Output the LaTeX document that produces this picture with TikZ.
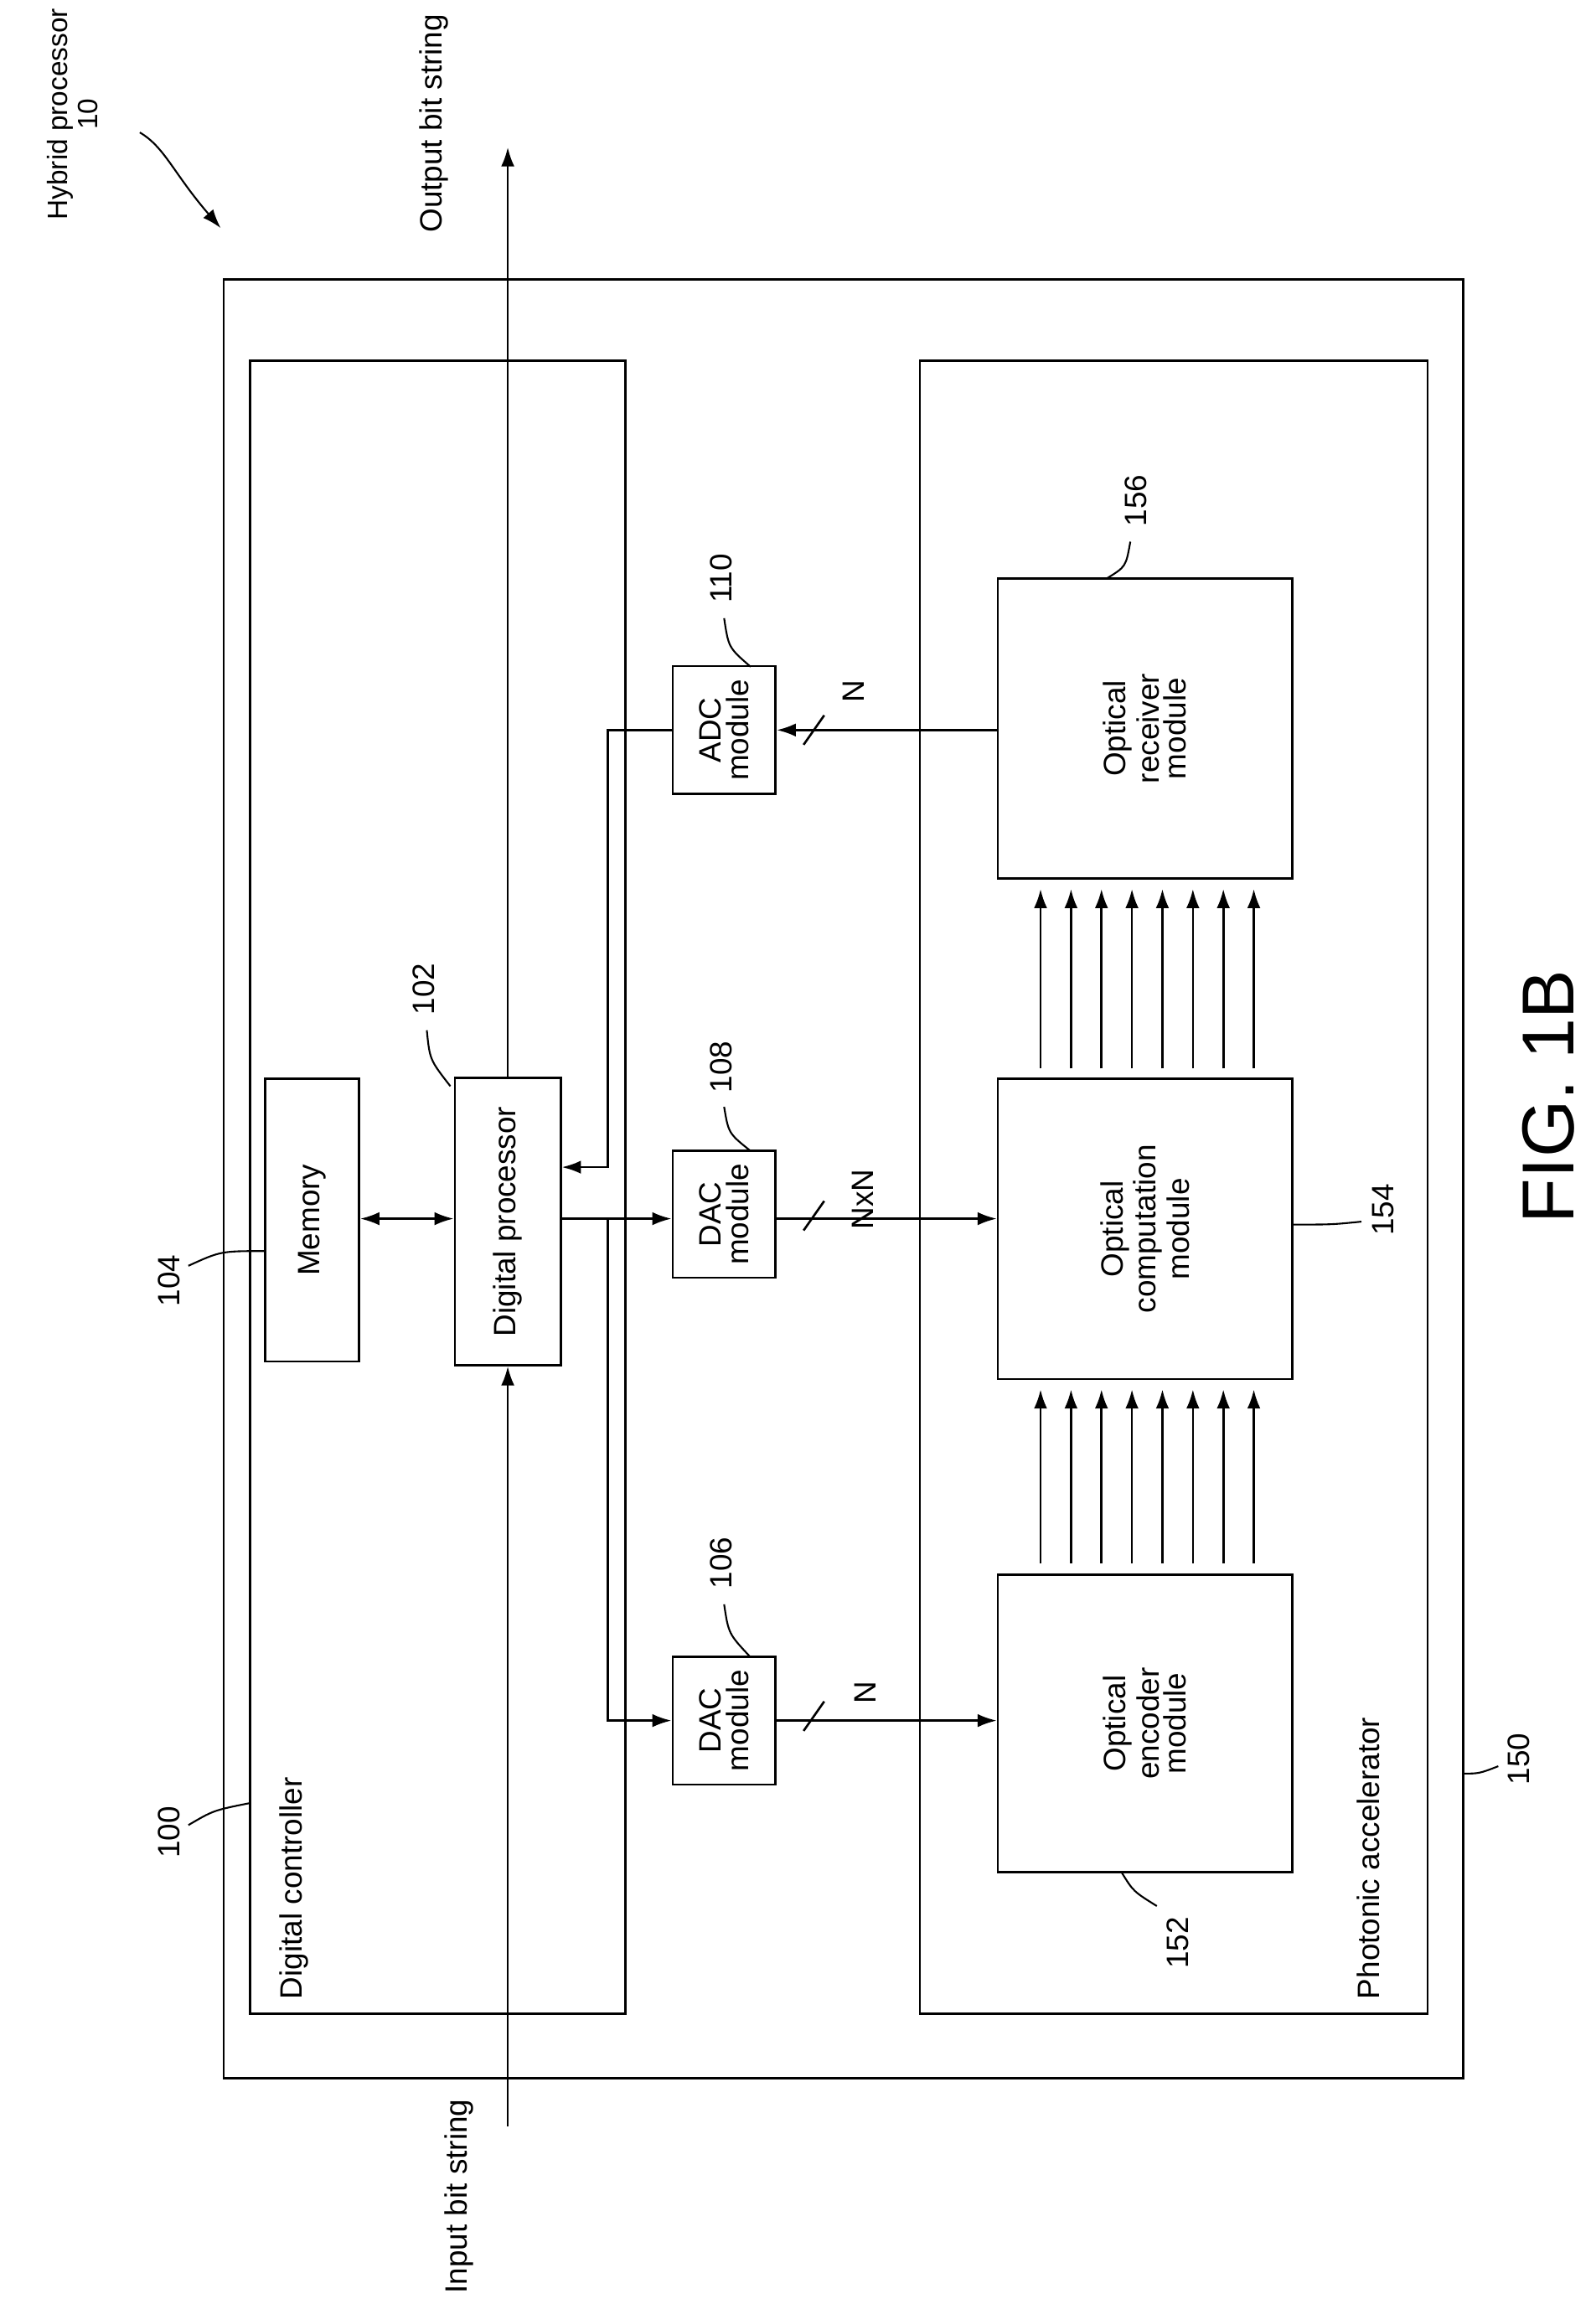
\documentclass[tikz,border=0pt]{standalone}
\usepackage{fontspec}
\setmainfont{Liberation Sans}
\usetikzlibrary{arrows.meta,calc}
\begin{document}
\begin{tikzpicture}[x=1pt,y=1pt,line width=1.5pt,
  >={Latex[length=13pt,width=9pt]}]
	% `blk' is used for the modules, `rtxt' for rotated texts.
	\tikzset{blk/.style={draw,inner sep=0pt,font=\fontsize{21}{24}\selectfont,align=center}}
	\tikzset{rtxt/.style={rotate=90,font=\fontsize{21}{24}\selectfont,inner sep=1pt}}
	\tikzset{lead/.style={line width=1.2pt}}
	\useasboundingbox (0,0) rectangle (1084,-1562);
	%
	% Outer frames.
	\node[draw,minimum width=842,minimum height=1222,inner sep=0pt] (hyb) at (573,-801) {};
	\node[draw,minimum width=255,minimum height=1123,inner sep=0pt] (ctrl) at (297.5,-806.5) {};
	\node[draw,minimum width=345,minimum height=1123,inner sep=0pt] (acc) at (797.5,-806.5) {};
	%
	% Modules.
	\node[blk,minimum width=64,minimum height=192] (mem) at (212,-829) {\rotatebox{90}{Memory}};
	\node[blk,minimum width=72,minimum height=195] (proc) at (345,-830) {\rotatebox{90}{Digital processor}};
	\node[blk,minimum width=70,minimum height=87] (dacA) at (492,-1169) {\rotatebox{90}{\shortstack{DAC\\module}}};
	\node[blk,minimum width=70,minimum height=86] (dacB) at (492,-825) {\rotatebox{90}{\shortstack{DAC\\module}}};
	\node[blk,minimum width=70,minimum height=87] (adc) at (492,-496) {\rotatebox{90}{\shortstack{ADC\\module}}};
	\node[blk,minimum width=200,minimum height=202] (enc) at (778,-1171) {\rotatebox{90}{\shortstack{Optical\\encoder\\module}}};
	\node[blk,minimum width=200,minimum height=204] (comp) at (778,-835) {\rotatebox{90}{\shortstack{Optical\\computation\\module}}};
	\node[blk,minimum width=200,minimum height=204] (rec) at (778,-495) {\rotatebox{90}{\shortstack{Optical\\receiver\\module}}};
	%
	% Free ends and corners.
	\coordinate (in) at (345,-1445);
	\coordinate (out) at (345,-100);
	\coordinate (jdac) at (413,-828);
	\coordinate (jadc) at (413,-793);
	%
	% Connectors.
	\draw[->] (in) -- (proc.south);
	\draw[->] (proc.north) -- (out);
	\draw[<->] (mem.east |- jdac) -- (proc.west |- jdac);
	\draw[->] (proc.east |- jdac) -- (dacB.west |- jdac);
	\draw[->] (jdac) |- (dacA.west);
	\draw[->] (adc.west) -| (jadc) -- (proc.east |- jadc);
	\draw[->] (dacA.east) -- (enc.west |- dacA.east);
	\draw[->] (dacB.east |- jdac) -- (comp.west |- jdac);
	\draw[->] (rec.west |- adc.east) -- (adc.east);
	% Bus slashes.
	\draw (546,-1176) -- (560,-1156);
	\draw (546,-836) -- (560,-816);
	\draw (546,-506) -- (560,-486);
	\node[rtxt] (nA) at (588,-1150) {N};
	\node[rtxt] (nB) at (586,-815) {NxN};
	\node[rtxt] (nC) at (580,-470) {N};
	% Optical channels.
	\foreach \i in {0,...,7} {
		\draw[->] ($(707,-1062)+(\i*20.7,0)$) -- ($(707,-944)+(\i*20.7,0)$);
		\draw[->] ($(707,-726)+(\i*20.7,0)$) -- ($(707,-604)+(\i*20.7,0)$);
	}
	%
	% Texts.
	\node[rtxt,align=center,anchor=south east,font=\fontsize{19}{21}\selectfont] (title) at (68,-4) {\shortstack{Hybrid processor\\10}};
	\draw[->,lead] (95,-90) .. controls (112,-100) and (118,-118) .. (150,-155);
	\node[rtxt,anchor=east] (outl) at (295,-8) {Output bit string};
	\node[rtxt,anchor=west] (inl) at (312,-1560) {Input bit string};
	\node[rtxt,anchor=west] (ctrll) at (200,-1360) {Digital controller};
	\node[rtxt,anchor=west] (accl) at (930,-1360) {Photonic accelerator};
	\node[rotate=90,font=\fontsize{50}{56}\selectfont] (fig) at (1052,-745) {FIG. 1B};
	%
	% Reference numerals.
	\node[rtxt] (r100) at (115,-1245) {100};
	\draw[lead] (128,-1240) .. controls (145,-1230) .. (170,-1225);
	\node[rtxt] (r104) at (115,-870) {104};
	\draw[lead] (128,-860) .. controls (150,-850) .. (180,-850);
	\node[rtxt] (r102) at (288,-672) {102};
	\draw[lead] (290,-700) .. controls (292,-720) .. (306,-738);
	\node[rtxt] (r106) at (490,-1062) {106};
	\draw[lead] (492,-1090) .. controls (495,-1110) .. (510,-1126);
	\node[rtxt] (r108) at (490,-725) {108};
	\draw[lead] (492,-752) .. controls (495,-770) .. (510,-782);
	\node[rtxt] (r110) at (490,-393) {110};
	\draw[lead] (492,-420) .. controls (495,-440) .. (510,-453);
	\node[rtxt] (r156) at (772,-340) {156};
	\draw[lead] (768,-368) .. controls (765,-385) .. (752,-393);
	\node[rtxt] (r154) at (940,-822) {154};
	\draw[lead] (925,-830) .. controls (905,-832) .. (878,-832);
	\node[rtxt] (r152) at (800,-1320) {152};
	\draw[lead] (786,-1295) .. controls (770,-1285) .. (762,-1272);
	\node[rtxt] (r150) at (1032,-1195) {150};
	\draw[lead] (1018,-1200) .. controls (1005,-1205) .. (994,-1205);
\end{tikzpicture}
\end{document}
